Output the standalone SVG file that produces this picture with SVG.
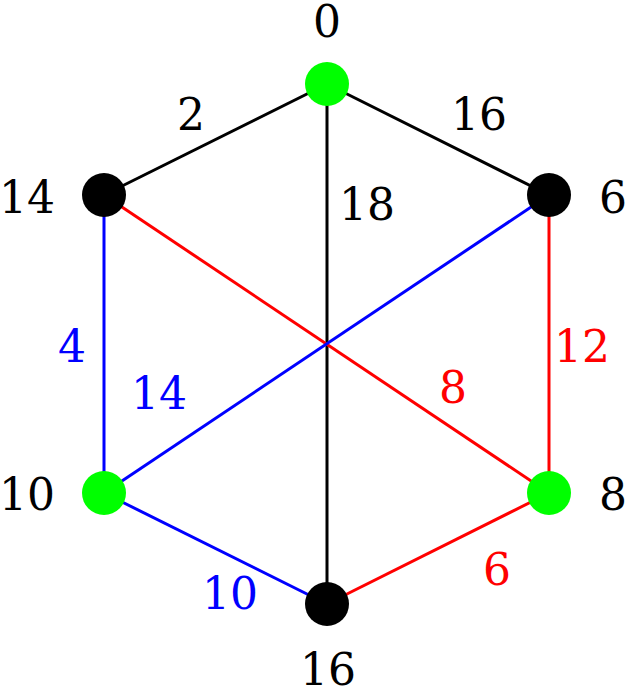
<svg xmlns="http://www.w3.org/2000/svg" width="626" height="689" viewBox="0 0 626 689">
<style>
text{font-family:"DejaVu Serif","Liberation Serif",serif;font-size:44px;text-anchor:middle}
.k{stroke:#000}.r{stroke:#ff0000}.b{stroke:#0000ff}
line{stroke-width:3}
.g{fill:#00ff00}.n{fill:#000}
.tr{fill:#ff0000}.tb{fill:#0000ff}.tk{fill:#000}
</style>
<rect width="626" height="689" fill="#fff"/>
<g id="edges">
<line class="k" x1="327" y1="84" x2="104" y2="195"/>
<line class="k" x1="327" y1="84" x2="549" y2="195"/>
<line class="k" x1="327" y1="84" x2="327" y2="604"/>
<line class="b" x1="104" y1="195" x2="104" y2="493"/>
<line class="r" x1="104" y1="195" x2="549" y2="493"/>
<line class="b" x1="549" y1="195" x2="104" y2="493"/>
<line class="r" x1="549" y1="195" x2="549" y2="493"/>
<line class="b" x1="104" y1="493" x2="327" y2="604"/>
<line class="r" x1="549" y1="493" x2="327" y2="604"/>
<text class="tk" x="191" y="130">2</text>
<text class="tk" x="479" y="130">16</text>
<text class="tk" x="367" y="220">18</text>
<text class="tb" x="72" y="362">4</text>
<text class="tb" x="159" y="409">14</text>
<text class="tr" x="582" y="362">12</text>
<text class="tr" x="453" y="403">8</text>
<text class="tb" x="230" y="609">10</text>
<text class="tr" x="497" y="585">6</text>
</g>
<g id="n0"><circle class="g" cx="327" cy="84" r="22"/><text class="tk" x="327" y="37">0</text></g>
<g id="n14"><circle class="n" cx="104" cy="195" r="22"/><text class="tk" x="27" y="213">14</text></g>
<g id="n6"><circle class="n" cx="549" cy="195" r="22"/><text class="tk" x="613" y="213">6</text></g>
<g id="n10"><circle class="g" cx="104" cy="493" r="22"/><text class="tk" x="27" y="510">10</text></g>
<g id="n8"><circle class="g" cx="549" cy="493" r="22"/><text class="tk" x="613" y="510">8</text></g>
<g id="n16"><circle class="n" cx="327" cy="604" r="22"/><text class="tk" x="328" y="685">16</text></g>
</svg>
